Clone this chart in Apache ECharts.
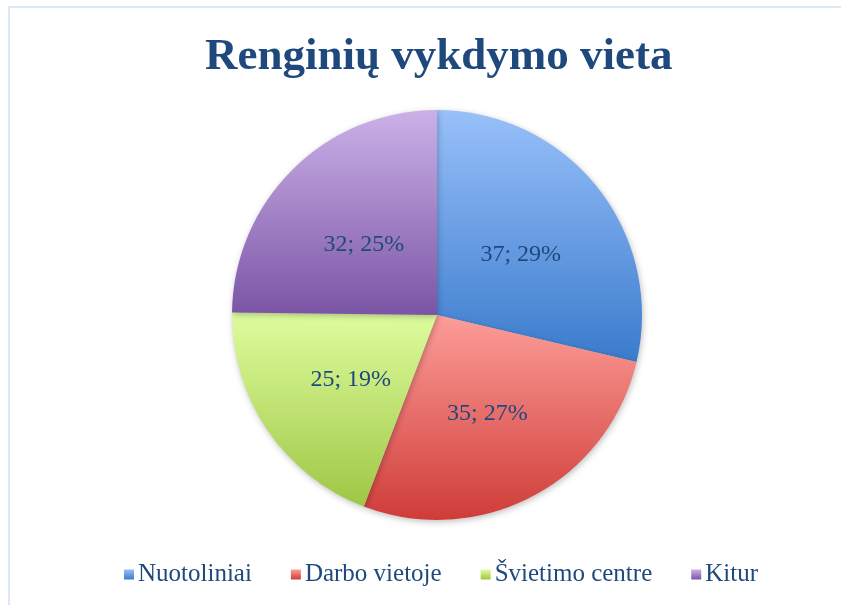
<!DOCTYPE html>
<html><head><meta charset="utf-8">
<script src="https://cdn.jsdelivr.net/npm/echarts@6/dist/echarts.min.js"></script>
<style>html,body{margin:0;padding:0;background:#fff}#c{width:841px;height:605px;position:relative}
#frame{position:absolute;left:8px;top:6px;width:900px;height:700px;border:2px solid #dce8f5;box-sizing:border-box;pointer-events:none}</style>
</head><body><div id="c"></div><div id="frame" style="position:absolute"></div>
<script>
const titleText = 'Renginių vykdymo vieta';
const categories = ['Nuotoliniai', 'Darbo vietoje', 'Švietimo centre', 'Kitur'];
const values = [37, 35, 25, 32];
const topColors = ['#98c0fa', '#fd9d98', '#defd9e', '#cbb1e8'];
const bottomColors = ['#3a7bcc', '#cf3c38', '#9fc645', '#7b55a5'];

function grad(i){
  return new echarts.graphic.LinearGradient(0,0,0,1,[{offset:0,color:topColors[i]},{offset:1,color:bottomColors[i]}]);
}
const chart = echarts.init(document.getElementById('c'), null, {renderer:'canvas'});
chart.setOption({
  animation:false,
  backgroundColor:'#fff',
  title:{text:titleText,left:200,top:30,
    textStyle:{fontFamily:'Liberation Serif',fontWeight:'bold',fontSize:45,color:'#1f497d'}},
  legend:{bottom:13,left:119,itemWidth:10,itemHeight:10,itemGap:39,icon:'rect',
    textStyle:{fontFamily:'Liberation Serif',fontSize:25,color:'#1f497d',padding:[0,0,0,-1]},
    data:categories.map((c,i)=>({name:c,itemStyle:{color:grad(i)}}))},
  series:[{type:'pie',center:[437,315],radius:[0,205],startAngle:90,clockwise:true,
    percentPrecision:0,
    label:{show:true,position:'inner',formatter:'{c}; {d}%',offset:[1,5],
      fontFamily:'Liberation Serif',fontSize:24,color:'#1f497d'},
    labelLine:{show:false},
    emphasis:{disabled:true},
    itemStyle:{shadowBlur:6,shadowColor:'rgba(0,0,0,0.25)',shadowOffsetX:1,shadowOffsetY:2},
    data:categories.map((c,i)=>({name:c,value:values[i],itemStyle:{color:grad(i)}}))
  }]
});
</script></body></html>
